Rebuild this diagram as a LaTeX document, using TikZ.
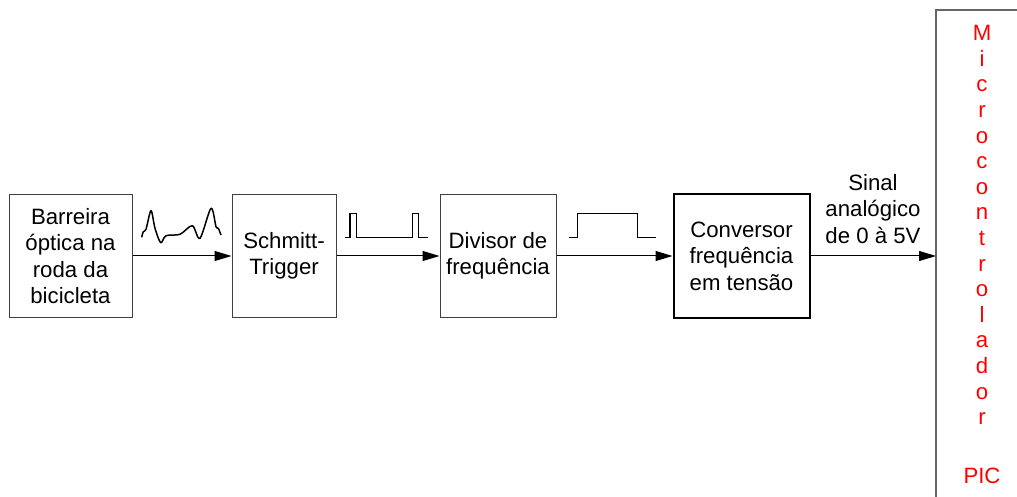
\documentclass[tikz,border=0pt]{standalone}
\usepackage{fontspec}
\setmainfont{Liberation Sans}
\usetikzlibrary{arrows.meta}
\begin{document}
\begin{tikzpicture}[x=0.5pt,y=-0.5pt,
  blk/.style={draw=black!75,line width=0.5pt,inner sep=0pt,minimum height=61.5pt,align=center,
    font=\fontsize{11.1pt}{13.25pt}\selectfont},
  lbl/.style={inner sep=0pt,align=center,font=\fontsize{11.1pt}{13.1pt}\selectfont},
  conn/.style={line width=0.5pt,-{Triangle[length=8.5pt,width=5pt]}},
  wave/.style={line width=0.75pt,line join=round},
  redtxt/.style={inner sep=0pt,align=center,text=red,font=\fontsize{11.1pt}{12.8pt}\selectfont}]
\useasboundingbox (0,0) rectangle (1017,497);
\node[blk,minimum width=61.5pt] (b1) at (70.5,256) {Barreira\\óptica na\\roda da\\bicicleta};
\node[blk,minimum width=52pt] (b2) at (284,256) {Schmitt-\\Trigger};
\node[blk,minimum width=58pt] (b3) at (498,256) {Divisor de\\frequência};
\node[blk,draw=black,line width=1pt,minimum width=68pt] (b4) at (741.5,256) {Conversor\\frequência\\em tensão};
\node[inner sep=0pt,minimum width=40.5pt,minimum height=243.5pt,anchor=north west] (pic) at (936,10) {};
\draw[black!60,line width=0.6pt] (pic.south west) -- (pic.north west) -- (pic.north east);
\node[redtxt] (mc) at (982,225) {M\\i\\c\\r\\o\\c\\o\\n\\t\\r\\o\\l\\a\\d\\o\\r};
\node[redtxt] (pictxt) at (982,476) {PIC};
\node[lbl] (sig) at (873,209) {Sinal\\analógico\\de 0 à 5V};
\draw[conn] (b1) -- (b2);
\draw[conn] (b2) -- (b3);
\draw[conn] (b3) -- (b4);
\draw[conn] (b4.east) -- (pic.west |- b4.east);
% waveforms
\draw[wave] plot[smooth,tension=0.5] coordinates {(141.7,237.3) (143.3,231.7) (146,229.3) (151,210.7) (155,228.3) (160.7,242.7) (166,235.7) (180,234.3) (192.3,225.7) (200,238.3) (211,208.3) (216,226.7) (218.3,228.3) (221,235)};
\draw[wave,line join=miter] (345,237.7) -- (350,237.7) -- (350,213.3) -- (356.3,213.3) -- (356.3,237.7) -- (412.3,237.7) -- (412.3,213.3) -- (418.3,213.3) -- (418.3,237.7) -- (428.3,237.7);
\draw[wave,line join=miter] (569,237.7) -- (577.3,237.7) -- (577.3,213.3) -- (637.3,213.3) -- (637.3,237.7) -- (656,237.7);
\end{tikzpicture}
\end{document}
